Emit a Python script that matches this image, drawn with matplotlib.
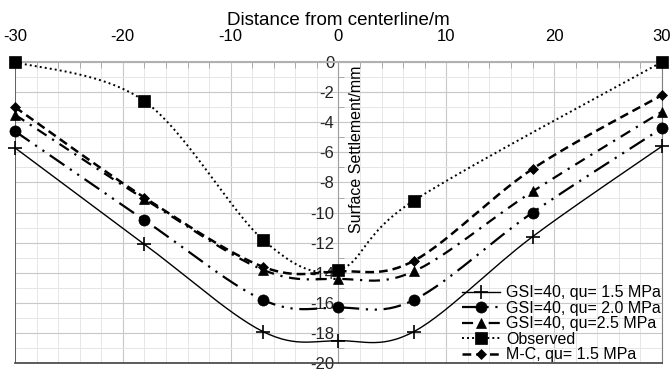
import numpy as np
import matplotlib
matplotlib.use("Agg")
import matplotlib.pyplot as plt
from matplotlib.ticker import MultipleLocator

plt.rcParams['font.family'] = ['Liberation Sans', 'DejaVu Sans']
plt.rcParams['axes.unicode_minus'] = False

# distance from centerline (m)
x = [-30, -18, -7, 0, 7, 18, 30]
gsi_15 = [-5.7, -12.1, -17.9, -18.5, -17.9, -11.6, -5.6]
gsi_20 = [-4.6, -10.5, -15.8, -16.3, -15.8, -10.0, -4.4]
gsi_25 = [-3.5, -9.1, -13.8, -14.4, -13.9, -8.6, -3.3]
mc_15 = [-3.0, -9.0, -13.6, -13.9, -13.2, -7.1, -2.2]
x_obs = [-30, -18, -7, 0, 7, 30]
observed = [0.0, -2.6, -11.8, -13.8, -9.2, 0.0]


def smooth(xs, ys, n=30):
    # excel-like smoothed line (bezier, neighbours / 6)
    p = np.column_stack([xs, ys]).astype(float)
    pts = []
    for i in range(len(p) - 1):
        p0 = p[i - 1] if i > 0 else p[i]
        p1, p2 = p[i], p[i + 1]
        p3 = p[i + 2] if i + 2 < len(p) else p[i + 1]
        c1 = p1 + (p2 - p0) / 6
        c2 = p2 - (p3 - p1) / 6
        t = np.linspace(0, 1, n)[:, None]
        seg = (1 - t) ** 3 * p1 + 3 * (1 - t) ** 2 * t * c1 + 3 * (1 - t) * t ** 2 * c2 + t ** 3 * p2
        pts.append(seg if i == 0 else seg[1:])
    pts = np.vstack(pts)
    return pts[:, 0], pts[:, 1]


fig = plt.figure(figsize=(6.72, 3.71), dpi=100)
ax = fig.add_axes([0.0223, 0.021, 0.9627, 0.812])

series = [
    (x, gsi_15, 'GSI=40, qu= 1.5 MPa', '-', '+', 10, 1.0),
    (x, gsi_20, 'GSI=40, qu= 2.0 MPa', (0, (8, 3, 1, 3, 1, 3)), 'o', 8, 1.6),
    (x, gsi_25, 'GSI=40, qu=2.5 MPa', (0, (5, 3, 1, 3)), '^', 7, 1.6),
    (x_obs, observed, 'Observed', (0, (1, 1.6)), 's', 8, 1.4),
    (x, mc_15, 'M-C, qu= 1.5 MPa', (0, (3.5, 2)), 'D', 5, 1.8),
]
handles = []
for xs, ys, lab, ls, mk, ms, lw in series:
    mew = 1.2 if mk == '+' else 0.5
    sx, sy = smooth(xs, ys)
    ax.plot(sx, sy, color='black', linestyle=ls, linewidth=lw, zorder=3)
    ax.plot(xs, ys, linestyle='none', marker=mk, color='black', markersize=ms,
            markeredgewidth=mew, zorder=4, clip_on=False)
    h, = ax.plot([], [], color='black', linestyle=ls, linewidth=lw, marker=mk,
                 markersize=ms, markeredgewidth=mew, label=lab)
    handles.append(h)

ax.set_xlim(-30, 30)
ax.set_ylim(-20, 0)

ax.xaxis.set_major_locator(MultipleLocator(10))
ax.xaxis.set_minor_locator(MultipleLocator(2))
ax.yaxis.set_major_locator(MultipleLocator(2))
ax.yaxis.set_minor_locator(MultipleLocator(1))
ax.grid(which='major', color='#c8c8c8', linewidth=0.8)
ax.grid(which='minor', color='#e6e6e6', linewidth=0.7)
ax.set_axisbelow(True)

ax.xaxis.tick_top()
ax.xaxis.set_label_position('top')
ax.tick_params(axis='x', which='both', direction='in', colors='#a0a0a0',
               labelcolor='black', labelsize=12, pad=13)
ax.tick_params(axis='x', which='major', length=0)
ax.tick_params(axis='x', which='minor', length=4)
ax.set_xlabel('Distance from centerline/m', fontsize=13.5, labelpad=3)

ax.spines['left'].set_position(('data', 0))
ax.spines['left'].set_color('#a0a0a0')
ax.tick_params(axis='y', which='both', direction='in', colors='#a0a0a0',
               labelcolor='#222222', labelsize=12, pad=3)
ax.tick_params(axis='y', which='major', length=0)
ax.tick_params(axis='y', which='minor', length=4)

ax.spines['top'].set_color('#b0b0b0')
ax.spines['top'].set_linewidth(1.5)
ax.spines['right'].set_color('#808080')
ax.spines['bottom'].set_color('#404040')
ax.spines['bottom'].set_linewidth(1.2)
ax.axvline(-30, color='#505050', linewidth=1.2, zorder=2)

ax.text(1.7, -5.8, 'Surface Settlement/mm', rotation=90, ha='center', va='center',
        fontsize=11.5)

ax.legend(handles=handles, loc='lower right', frameon=False, fontsize=11.5,
          handlelength=2.4, handletextpad=0.4, labelspacing=0.03,
          borderaxespad=0.0, borderpad=0.05)

fig.savefig('out.png', dpi=100)
